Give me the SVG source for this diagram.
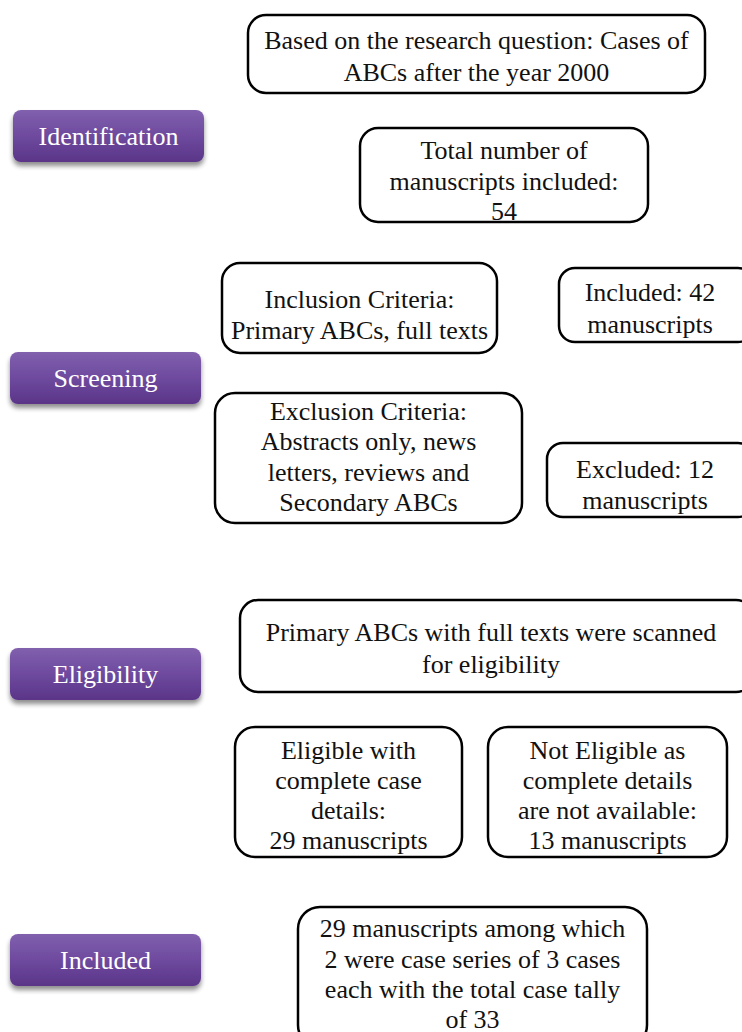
<svg xmlns="http://www.w3.org/2000/svg" width="742" height="1032" viewBox="0 0 742 1032" font-family="'Liberation Serif', 'Times New Roman', serif">
<defs>
<linearGradient id="pg" x1="0" y1="0" x2="0" y2="1">
<stop offset="0" stop-color="#8160ae"/>
<stop offset="0.5" stop-color="#6e4a9e"/>
<stop offset="1" stop-color="#5a3588"/>
</linearGradient>
<filter id="sh" x="-10%" y="-20%" width="120%" height="160%">
<feGaussianBlur in="SourceAlpha" stdDeviation="2.5"/>
<feOffset dx="0" dy="4" result="b"/>
<feComponentTransfer><feFuncA type="linear" slope="0.45"/></feComponentTransfer>
<feMerge><feMergeNode/><feMergeNode in="SourceGraphic"/></feMerge>
</filter>
</defs>
<style>
.box{fill:#fff;stroke:#000;stroke-width:2.5}
.btn{fill:url(#pg);filter:url(#sh)}
text{font-family:'Liberation Serif','Times New Roman',serif;font-size:26px;text-anchor:middle;fill:#111}
.wt{fill:#fff}
</style>
<rect width="742" height="1032" fill="#fff"/>
<g id="stage-identification"><rect class="btn" x="13" y="110" width="191" height="52" rx="8"/><text class="wt" x="108.5" y="145">Identification</text></g>
<g id="stage-screening"><rect class="btn" x="10" y="352" width="191" height="52" rx="8"/><text class="wt" x="105.5" y="387">Screening</text></g>
<g id="stage-eligibility"><rect class="btn" x="10" y="648" width="191" height="52" rx="8"/><text class="wt" x="105.5" y="683">Eligibility</text></g>
<g id="stage-included"><rect class="btn" x="10" y="934" width="191" height="52" rx="8"/><text class="wt" x="105.5" y="969">Included</text></g>
<g id="research-question"><rect class="box" x="248" y="15" width="457" height="78" rx="18"/><text x="476.5" y="49">Based on the research question: Cases of</text><text x="476.5" y="81">ABCs after the year 2000</text></g>
<g id="total"><rect class="box" x="360" y="128" width="288" height="94" rx="18"/><text x="504" y="159">Total number of</text><text x="504" y="190">manuscripts included:</text><text x="504" y="220">54</text></g>
<g id="inclusion"><rect class="box" x="222" y="263" width="275" height="90" rx="18"/><text x="359.5" y="308">Inclusion Criteria:</text><text x="359.5" y="339">Primary ABCs, full texts</text></g>
<g id="included42"><rect class="box" x="559" y="268" width="195" height="74" rx="16"/><text x="650" y="301">Included: 42</text><text x="650" y="333">manuscripts</text></g>
<g id="exclusion"><rect class="box" x="215" y="393" width="307" height="130" rx="20"/><text x="368.5" y="420">Exclusion Criteria:</text><text x="368.5" y="450">Abstracts only, news</text><text x="368.5" y="481">letters, reviews and</text><text x="368.5" y="511">Secondary ABCs</text></g>
<g id="excluded12"><rect class="box" x="547" y="443" width="207" height="74" rx="16"/><text x="645" y="478">Excluded: 12</text><text x="645" y="509">manuscripts</text></g>
<g id="scanned"><rect class="box" x="240" y="600" width="514" height="92" rx="18"/><text x="491" y="641">Primary ABCs with full texts were scanned</text><text x="491" y="673">for eligibility</text></g>
<g id="eligible"><rect class="box" x="235" y="727" width="227" height="130" rx="20"/><text x="348.5" y="759">Eligible with</text><text x="348.5" y="789">complete case</text><text x="348.5" y="819">details:</text><text x="348.5" y="849">29 manuscripts</text></g>
<g id="not-eligible"><rect class="box" x="488" y="727" width="239" height="130" rx="20"/><text x="607.5" y="759">Not Eligible as</text><text x="607.5" y="789">complete details</text><text x="607.5" y="819">are not available:</text><text x="607.5" y="849">13 manuscripts</text></g>
<g id="final"><rect class="box" x="298" y="907" width="349" height="140" rx="22"/><text x="472.5" y="937">29 manuscripts among which</text><text x="472.5" y="968">2 were case series of 3 cases</text><text x="472.5" y="998">each with the total case tally</text><text x="472.5" y="1028">of 33</text></g>
<g id="connectors"></g>
</svg>
